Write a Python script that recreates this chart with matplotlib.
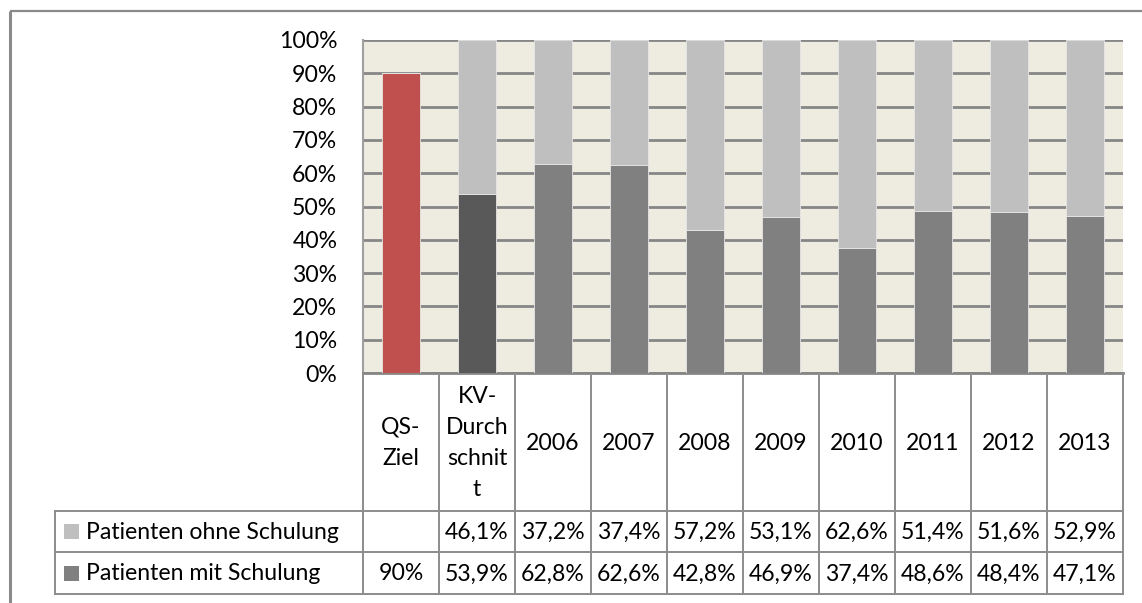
import matplotlib
matplotlib.use("Agg")
import matplotlib.pyplot as plt
from matplotlib.patches import Rectangle

# ---- data ----
categories = ["QS-\nZiel", "KV-\nDurch\nschnit\nt", "2006", "2007", "2008",
              "2009", "2010", "2011", "2012", "2013"]
series_names = ["Patienten ohne Schulung", "Patienten mit Schulung"]
mit = [90.0, 53.9, 62.8, 62.6, 42.8, 46.9, 37.4, 48.6, 48.4, 47.1]
ohne = [None, 46.1, 37.2, 37.4, 57.2, 53.1, 62.6, 51.4, 51.6, 52.9]
mit_labels = ["90%", "53,9%", "62,8%", "62,6%", "42,8%", "46,9%", "37,4%",
              "48,6%", "48,4%", "47,1%"]
ohne_labels = ["", "46,1%", "37,2%", "37,4%", "57,2%", "53,1%", "62,6%",
               "51,4%", "51,6%", "52,9%"]
yticks = list(range(0, 101, 10))

# ---- style ----
FONT = "Lato"
FS = 16.6
C_RED = "#C0504D"
C_DARK = "#595959"
C_MIT = "#808080"
C_OHNE = "#BFBFBF"
C_BG = "#EEECE1"
C_GRID = "#868686"
C_LINE = "#8C8C8C"

W, H = 1142, 603
fig = plt.figure(figsize=(W / 100, H / 100), dpi=100)
fig.patch.set_facecolor("white")

# plot area in pixels
PL, PR, PT, PB = 363, 1123, 40, 373
ax = fig.add_axes([PL / W, 1 - PB / H, (PR - PL) / W, (PB - PT) / H])
ax.set_facecolor(C_BG)
n = len(categories)
x = list(range(n))
mit_colors = [C_RED, C_DARK] + [C_MIT] * (n - 2)
ohne_vals = [v if v is not None else 0 for v in ohne]
ax.bar(x, mit, width=0.5, color=mit_colors, edgecolor="#E6E6E6",
       linewidth=0.6, zorder=3)
ax.bar(x, ohne_vals, bottom=mit, width=0.5, color=C_OHNE, edgecolor="#E6E6E6",
       linewidth=0.6, zorder=3)
ax.set_xlim(-0.5, n - 0.5)
ax.set_ylim(0, 100)
ax.set_yticks(yticks)
ax.set_yticklabels([f"{t}%" for t in yticks], fontfamily=FONT, fontsize=FS)
ax.tick_params(axis="y", length=0, pad=18.5)
ax.set_xticks([])
ax.yaxis.grid(True, color=C_GRID, linewidth=2.0, zorder=1)
ax.set_axisbelow(True)
for s in ["top", "right"]:
    ax.spines[s].set_visible(False)
ax.spines["left"].set_color("#A0A0A0")
ax.spines["left"].set_linewidth(1.5)
ax.spines["bottom"].set_color(C_GRID)
ax.spines["bottom"].set_linewidth(2.0)

# ---- overlay axes for table and frame (pixel coordinates) ----
ov = fig.add_axes([0, 0, 1, 1], zorder=5)
ov.set_xlim(0, W)
ov.set_ylim(H, 0)
ov.axis("off")
ov.patch.set_alpha(0)

# outer chart frame
ov.plot([9.5, 9.5], [603, 10.5], color="#8A8A8A", lw=2.2, solid_capstyle="butt")
ov.plot([9.5, W], [10.5, 10.5], color="#8A8A8A", lw=1.6, solid_capstyle="butt")

colw = (PR - PL) / n
HDR_B = 511
R1_B = 552
R2_B = 594
LEG_L = 55
lkw = dict(color=C_LINE, lw=1.4, solid_capstyle="projecting")

# header vertical lines
for i in range(n + 1):
    xx = PL + i * colw
    ov.plot([xx, xx], [PB, R2_B], **lkw)
# horizontal lines of rows
for yy in (HDR_B, R1_B, R2_B):
    ov.plot([LEG_L, PR], [yy, yy], **lkw)
ov.plot([LEG_L, LEG_L], [HDR_B, R2_B], **lkw)

# header labels
for i, c in enumerate(categories):
    ov.text(PL + (i + 0.5) * colw, (PB + HDR_B) / 2 + 1, c, ha="center",
            va="center", fontfamily=FONT, fontsize=FS, linespacing=1.6)

# row labels with legend keys
rows = [(series_names[0], C_OHNE, ohne_labels, (HDR_B + R1_B) / 2),
        (series_names[1], C_MIT, mit_labels, (R1_B + R2_B) / 2)]
for name, col, labels, yc in rows:
    ov.add_patch(Rectangle((64, yc - 7.5), 15, 15, facecolor=col,
                           edgecolor="none"))
    ov.text(86, yc + 1, name, ha="left", va="center", fontfamily=FONT,
            fontsize=FS)
    for i, lab in enumerate(labels):
        if lab:
            ov.text(PL + (i + 0.5) * colw, yc + 1, lab, ha="center",
                    va="center", fontfamily=FONT, fontsize=FS)

fig.savefig("out.png", dpi=100)
